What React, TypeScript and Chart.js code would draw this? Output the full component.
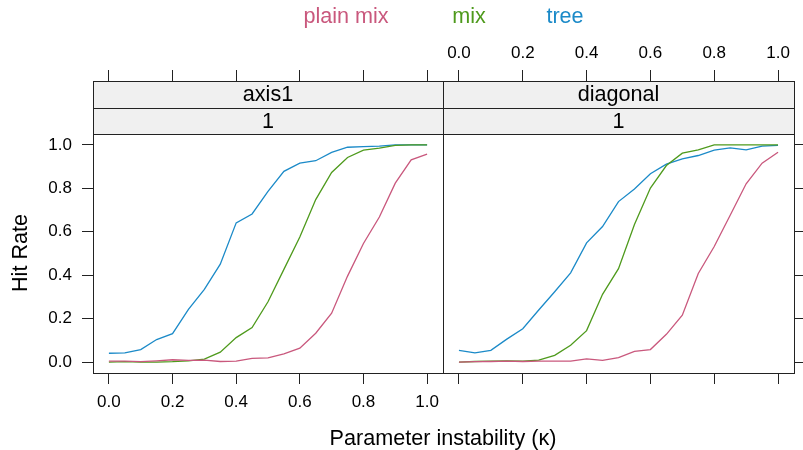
import React, { useEffect, useRef } from "react";
import { Chart, registerables } from "chart.js";

Chart.register(...registerables);

// ---------- data ----------
const kappa = [0, 0.05, 0.1, 0.15, 0.2, 0.25, 0.3, 0.35, 0.4, 0.45, 0.5, 0.55, 0.6, 0.65, 0.7, 0.75, 0.8, 0.85, 0.9, 0.95, 1.0];

const plainMixAxis1 = [0.005, 0.005, 0.002, 0.006, 0.011, 0.008, 0.009, 0.003, 0.005, 0.017, 0.020, 0.038, 0.064, 0.133, 0.225, 0.396, 0.546, 0.668, 0.824, 0.931, 0.957];
const mixAxis1 = [0.000, 0.002, 0.000, 0.000, 0.002, 0.006, 0.014, 0.046, 0.113, 0.159, 0.278, 0.427, 0.576, 0.748, 0.873, 0.942, 0.976, 0.985, 0.998, 1.000, 1.000];
const treeAxis1 = [0.041, 0.043, 0.058, 0.104, 0.131, 0.243, 0.335, 0.451, 0.641, 0.682, 0.786, 0.878, 0.916, 0.927, 0.965, 0.989, 0.992, 0.994, 1.000, 1.000, 1.000];

const plainMixDiagonal = [0.000, 0.002, 0.003, 0.005, 0.003, 0.005, 0.005, 0.005, 0.015, 0.008, 0.021, 0.050, 0.058, 0.128, 0.216, 0.408, 0.532, 0.676, 0.821, 0.916, 0.966];
const mixDiagonal = [0.000, 0.003, 0.005, 0.006, 0.005, 0.009, 0.031, 0.078, 0.145, 0.312, 0.430, 0.633, 0.801, 0.905, 0.962, 0.977, 1.000, 1.000, 1.000, 1.000, 1.000];
const treeDiagonal = [0.054, 0.043, 0.054, 0.106, 0.154, 0.240, 0.324, 0.411, 0.549, 0.624, 0.739, 0.797, 0.867, 0.911, 0.936, 0.951, 0.976, 0.986, 0.977, 0.994, 0.998];

const panelNames = ["axis1", "diagonal"];
const stripLevel = "1";
const seriesNames = ["plain mix", "mix", "tree"];
const seriesColors = ["#C9587D", "#4E9A1C", "#1B8AC8"];
const tickValues = [0, 0.2, 0.4, 0.6, 0.8, 1.0];
const xTitle = "Parameter instability (\u03BA)";
const yTitle = "Hit Rate";

const panelSeries = [
  [plainMixAxis1, mixAxis1, treeAxis1],
  [plainMixDiagonal, mixDiagonal, treeDiagonal],
];

// ---------- layout constants ----------
const FONT = "'Liberation Sans', Arial, Helvetica, sans-serif";
const W = 803;
const H = 450;
const PANEL_SPLIT = 443;
const PANEL_RIGHT = 794;
const STRIP_TOP = 81;
const DATA_TOP = 134;
const PANEL_BOTTOM = 373;
const X_MIN = -0.05;
const X_MAX = 1.05;
const Y_MIN = -0.05;
const Y_MAX = 1.05 + ((DATA_TOP - STRIP_TOP) / (PANEL_BOTTOM - DATA_TOP)) * 1.1;
const TICK_FONT = 17;
const TEXT_FONT = 21.6;

function setTicks(s: any) {
  s.ticks = tickValues.map((v) => ({ value: v }));
}
const fmt = (v: any) => Number(v).toFixed(1);

const gridOpts = { drawOnChartArea: false, tickLength: 11, color: "#222", lineWidth: 1 };

function stripPlugin(name: string) {
  return {
    id: "strips",
    afterDraw(chart: any) {
      const { ctx, chartArea } = chart;
      const left = Math.round(chartArea.left);
      const right = Math.round(chartArea.right);
      const top = Math.round(chartArea.top);
      const bottom = Math.round(chartArea.bottom);
      const mid = (top + DATA_TOP) / 2;
      ctx.save();
      ctx.fillStyle = "#F0F0F0";
      ctx.fillRect(left, top, right - left, DATA_TOP - top);
      ctx.strokeStyle = "#222";
      ctx.lineWidth = 1;
      ctx.strokeRect(left + 0.5, top + 0.5, right - left, bottom - top);
      ctx.beginPath();
      ctx.moveTo(left, Math.round(mid) + 0.5);
      ctx.lineTo(right + 1, Math.round(mid) + 0.5);
      ctx.moveTo(left, DATA_TOP + 0.5);
      ctx.lineTo(right + 1, DATA_TOP + 0.5);
      ctx.stroke();
      ctx.fillStyle = "#000";
      ctx.font = `${TEXT_FONT}px ${FONT}`;
      ctx.textAlign = "center";
      ctx.textBaseline = "middle";
      const cx = (left + right) / 2;
      ctx.fillText(name, cx, (top + mid) / 2 + 1);
      ctx.fillText(stripLevel, cx, (mid + DATA_TOP) / 2 + 1);
      ctx.restore();
    },
  };
}

function makeConfig(panel: number): any {
  const isLeft = panel === 0;
  const datasets = seriesNames.map((n, i) => ({
    label: n,
    data: kappa.map((k, j) => ({ x: k, y: panelSeries[panel][i][j] })),
    borderColor: seriesColors[i],
    backgroundColor: seriesColors[i],
    borderWidth: 1.3,
    pointRadius: 0,
    tension: 0,
    fill: false,
  }));
  const tickFont = { family: FONT, size: TICK_FONT };
  const scales: any = {
    x: {
      type: "linear",
      position: "bottom",
      min: X_MIN,
      max: X_MAX,
      afterBuildTicks: setTicks,
      afterFit: (s: any) => {
        s.height = 60;
      },
      grid: gridOpts,
      border: { display: false },
      ticks: { display: isLeft, font: tickFont, color: "#000", padding: 8, maxRotation: 0, autoSkip: false, callback: fmt },
    },
    xTop: {
      type: "linear",
      axis: "x",
      position: "top",
      min: X_MIN,
      max: X_MAX,
      afterBuildTicks: setTicks,
      afterFit: (s: any) => {
        s.height = STRIP_TOP;
      },
      grid: gridOpts,
      border: { display: false },
      ticks: { display: !isLeft, font: tickFont, color: "#000", padding: 6, maxRotation: 0, autoSkip: false, callback: fmt },
    },
    y: {
      type: "linear",
      position: isLeft ? "left" : "right",
      min: Y_MIN,
      max: Y_MAX,
      afterBuildTicks: setTicks,
      afterFit: (s: any) => {
        s.width = isLeft ? 93 : W - PANEL_RIGHT;
      },
      grid: gridOpts,
      border: { display: false },
      ticks: { display: isLeft, font: tickFont, color: "#000", padding: 10, autoSkip: false, callback: fmt },
    },
  };
  return {
    type: "line",
    data: { datasets },
    options: {
      animation: false,
      responsive: false,
      maintainAspectRatio: false,
      devicePixelRatio: 1,
      layout: {
        padding: isLeft
          ? { left: 0, right: W - PANEL_SPLIT, top: 0, bottom: H - PANEL_BOTTOM - 60 }
          : { left: PANEL_SPLIT, right: 0, top: 0, bottom: H - PANEL_BOTTOM - 60 },
      },
      plugins: { legend: { display: false }, tooltip: { enabled: false }, title: { display: false } },
      scales,
    },
    plugins: [stripPlugin(panelNames[panel])],
  };
}

function Panel({ index }: { index: number }) {
  const ref = useRef<HTMLCanvasElement | null>(null);
  useEffect(() => {
    if (!ref.current) return;
    const chart = new Chart(ref.current, makeConfig(index));
    return () => chart.destroy();
  }, [index]);
  return (
    <canvas
      ref={ref}
      width={W}
      height={H}
      style={{ position: "absolute", left: 0, top: 0, width: W, height: H }}
    />
  );
}

const legendCenters = [346, 469, 565];

export default function App() {
  return (
    <div style={{ position: "absolute", left: 0, top: 0, width: W, height: H, background: "#fff", fontFamily: FONT, overflow: "hidden" }}>
      <Panel index={0} />
      <Panel index={1} />
      {seriesNames.map((n, i) => (
        <div
          key={n}
          style={{
            position: "absolute",
            left: legendCenters[i] - 100,
            width: 200,
            top: 16 - 13,
            height: 26,
            lineHeight: "26px",
            textAlign: "center",
            fontSize: TEXT_FONT,
            color: seriesColors[i],
            whiteSpace: "nowrap",
          }}
        >
          {n}
        </div>
      ))}
      <div
        style={{
          position: "absolute",
          left: PANEL_SPLIT - 200,
          width: 400,
          top: 438 - 13,
          height: 26,
          lineHeight: "26px",
          textAlign: "center",
          fontSize: TEXT_FONT,
          color: "#000",
          whiteSpace: "nowrap",
        }}
      >
        {xTitle}
      </div>
      <div
        style={{
          position: "absolute",
          left: 20 - 100,
          top: 253 - 13,
          width: 200,
          height: 26,
          lineHeight: "26px",
          textAlign: "center",
          fontSize: TEXT_FONT,
          color: "#000",
          whiteSpace: "nowrap",
          transform: "rotate(-90deg)",
        }}
      >
        {yTitle}
      </div>
    </div>
  );
}
